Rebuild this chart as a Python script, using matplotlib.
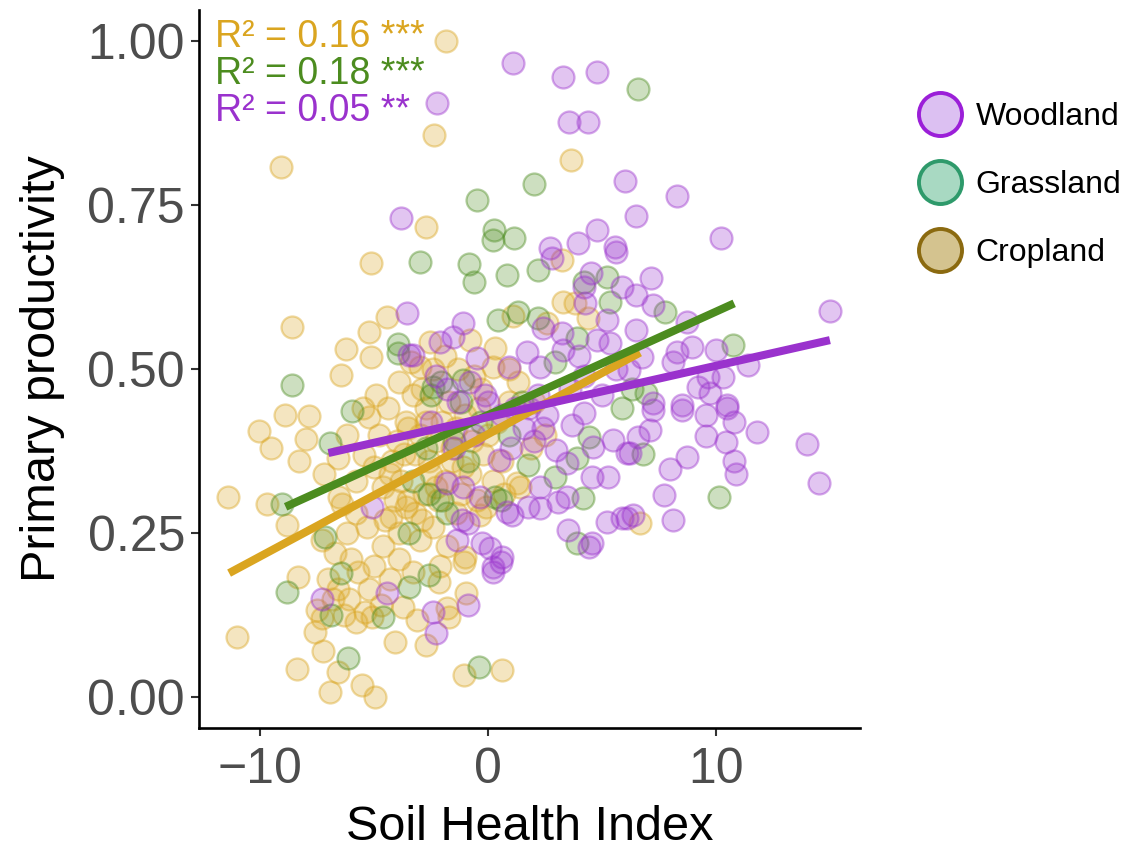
import matplotlib
matplotlib.use("Agg")
import matplotlib.pyplot as plt
from matplotlib.lines import Line2D
from matplotlib.colors import to_rgba

plt.rcParams['font.family'] = ['Liberation Sans', 'DejaVu Sans']

categories = ["Woodland", "Grassland", "Cropland"]

woodland_x = [1.1, 3.3, 4.8, 3.55, 4.4, -2.25, 6.0, 8.3, 6.5, 4.8, 10.2, 3.95, 5.55, 2.7, -3.8,
              2.8, 5.6, 7.15, 15.0, 4.5, 4.2, 5.9, 6.5, 7.25, 4.25, 5.2, 8.75, -3.55, -3.3, -1.1,
              2.4, 3.25, 6.5, 4.8, 5.35, 8.95, 10.0, 8.3, -3.45, -2.1, -1.55, -0.5, 1.7, 3.3, 0.9,
              2.3, 6.75, 8.1, 11.4, 6.2, 9.65, 10.3, 9.2, 9.75, -0.15, 8.5, 10.5, 7.25, 8.5, 9.55,
              10.5, 10.8, 11.8, 9.55, 10.45, 14.0, 10.8, 10.9, 8.75, 8.0, 14.5, 7.7, 8.1, 6.35, 6.1,
              7.25, 7.1, 6.25, 6.6, 5.5, 6.1, 4.6, 3.45, 3.0, 4.55, 5.25, 2.3, 3.45, 3.05, 2.3,
              1.75, 1.05, 0.85, 5.2, 5.9, 3.5, 4.55, 4.45, -1.15, -0.9, -1.35, -0.25, 0.1, 0.6, 0.2,
              -1.8, -1.1, -0.35, 0.5, -2.3, -2.4, -0.9, 0.2, 0.55, -4.45, -5.1, -2.3, -1.8, -1.3,
              -0.8, 0.0, 0.6, 1.2, 1.6, 2.2, 2.6, 3.6, 4.2, 5.0, 5.6, 4.0, 2.0, 1.0, -0.6, -1.5,
              -2.5, 4.2, 3.7, 2.4, 1.8, -7.3]
woodland_y = [0.966, 0.945, 0.953, 0.876, 0.876, 0.905, 0.787, 0.764, 0.733, 0.712, 0.70, 0.692, 0.686, 0.684, 0.73,
              0.669, 0.678, 0.638, 0.588, 0.646, 0.625, 0.625, 0.613, 0.598, 0.60, 0.575, 0.572, 0.585, 0.521, 0.57,
              0.562, 0.555, 0.56, 0.544, 0.54, 0.533, 0.529, 0.526, 0.521, 0.541, 0.549, 0.517, 0.526, 0.529, 0.503,
              0.503, 0.518, 0.51, 0.506, 0.498, 0.488, 0.488, 0.473, 0.463, 0.46, 0.445, 0.445, 0.448, 0.437, 0.43,
              0.44, 0.42, 0.404, 0.398, 0.389, 0.386, 0.36, 0.34, 0.366, 0.348, 0.326, 0.308, 0.27, 0.277, 0.273,
              0.437, 0.407, 0.372, 0.397, 0.392, 0.372, 0.381, 0.357, 0.377, 0.336, 0.336, 0.32, 0.305, 0.297, 0.288,
              0.29, 0.277, 0.282, 0.267, 0.273, 0.255, 0.235, 0.229, 0.27, 0.265, 0.239, 0.235, 0.227, 0.213, 0.198,
              0.326, 0.32, 0.305, 0.361, 0.098, 0.13, 0.14, 0.19, 0.206, 0.158, 0.29, 0.49, 0.47, 0.45,
              0.48, 0.45, 0.43, 0.44, 0.41, 0.46, 0.43, 0.47, 0.49, 0.46, 0.50, 0.52, 0.39, 0.38, 0.40, 0.38,
              0.42, 0.433, 0.415, 0.41, 0.44, 0.15]

grassland_x = [6.6, -0.5, 2.0, 0.25, 1.15, 0.2, -3.0, -0.85, -0.6, 0.85, 2.2, 5.2, 4.2, 5.35, 7.75,
               0.45, 1.3, 2.2, 3.9, 2.95, 10.75, -3.95, -3.95, -8.6, -2.4, -1.1, 6.95, 6.8, 10.15, 4.45,
               3.9, 2.95, 1.75, 4.15, 3.9, 0.3, 0.55, -5.95, -6.95, -9.05, -7.15, -3.45, -8.8, -6.15, -6.45,
               -6.9, -4.6, -3.45, -2.6, -0.4, -2.7, -2.0, -0.9, 0.9, -1.2, -0.3, 5.9, 6.3, -2.5, -2.05,
               -2.6, -1.8, 1.5, -3.3, -1.5]
grassland_y = [0.927, 0.758, 0.782, 0.712, 0.70, 0.697, 0.663, 0.66, 0.633, 0.643, 0.651, 0.64, 0.632, 0.602, 0.587,
               0.575, 0.587, 0.578, 0.547, 0.51, 0.536, 0.538, 0.524, 0.476, 0.473, 0.483, 0.463, 0.37, 0.305, 0.396,
               0.364, 0.336, 0.354, 0.303, 0.235, 0.305, 0.30, 0.436, 0.387, 0.295, 0.244, 0.25, 0.16, 0.059, 0.189,
               0.125, 0.122, 0.168, 0.186, 0.046, 0.38, 0.30, 0.36, 0.40, 0.45, 0.42, 0.44, 0.47, 0.46, 0.48,
               0.31, 0.28, 0.45, 0.33, 0.39]

cropland_x = [-1.85, -2.35, -9.1, 3.65, -2.7, 3.25, -5.15, -4.45, -8.6, -5.2, -6.25, -5.15, -6.45, 3.3, 4.4,
              -2.55, -0.8, 0.3, -3.0, 0.2, -10.05, -7.85, -8.0, -5.2, -6.6, -5.45, -11.4, -9.7, -8.8, -6.55,
              -6.4, -5.8, -4.25, -11.0, -8.35, -8.4, -7.25, -6.6, -6.95, -5.55, -4.95, -4.1, -2.7, -0.95, -1.8,
              -1.7, -3.1, -3.75, -5.1, -7.3, -7.5, -2.15, -1.05, -1.05, 0.6, -1.0, -0.35, 1.4, 1.25, 6.65,
              -7.0, -6.6, -6.1, -6.8, -5.7, -5.2, -7.6, -6.3, -5.8, -5.4, -4.7, -4.3, -5.0, -6.0, -6.7,
              -7.3, -4.6, -3.9, -3.3, -5.8, -5.0, -4.6, -4.2, -3.8, -3.5, -3.2, -2.8, -2.5, -2.2, -1.9,
              -1.6, -1.2, -0.8, -0.5, -0.2, 0.2, 0.6, -4.8, -4.4, -4.0, -3.6, -3.3, -3.0, -2.7, -2.3,
              -2.0, -1.7, -1.4, -1.0, -0.7, -0.4, 0.0, 0.4, 0.9, 1.3, -3.9, -3.4, -2.9, -2.4, -1.9,
              -1.3, -0.6, -4.5, -3.9, -3.0, -2.4, -1.8, -2.1, -5.3, -6.2, -4.1, -3.7, -2.6, -1.4, -0.1,
              0.7, 1.9, 2.5, 2.0, -4.9, -5.5, -6.2, -7.2, -8.3, -8.9, -9.5, 3.8, 1.1, 2.6, -3.6,
              -2.9, -4.3, -1.1, -0.3, 0.9, -3.2, -2.3, -1.6, -2.7, -3.5]
cropland_y = [1.0, 0.857, 0.808, 0.819, 0.716, 0.666, 0.662, 0.579, 0.564, 0.556, 0.530, 0.518, 0.491, 0.602, 0.578,
              0.541, 0.544, 0.532, 0.503, 0.503, 0.405, 0.428, 0.394, 0.427, 0.364, 0.369, 0.305, 0.295, 0.262, 0.305,
              0.295, 0.28, 0.275, 0.091, 0.183, 0.043, 0.07, 0.038, 0.008, 0.018, 0.0, 0.084, 0.079, 0.158, 0.136,
              0.122, 0.117, 0.137, 0.122, 0.12, 0.133, 0.175, 0.206, 0.034, 0.041, 0.213, 0.277, 0.32, 0.326, 0.265,
              0.18, 0.165, 0.15, 0.15, 0.19, 0.165, 0.10, 0.125, 0.115, 0.13, 0.14, 0.18, 0.20, 0.21, 0.22,
              0.24, 0.23, 0.21, 0.19, 0.33, 0.35, 0.32, 0.36, 0.33, 0.30, 0.28, 0.31, 0.34, 0.30, 0.33,
              0.36, 0.31, 0.34, 0.30, 0.37, 0.33, 0.36, 0.40, 0.44, 0.39, 0.42, 0.46, 0.40, 0.44, 0.39,
              0.42, 0.45, 0.41, 0.43, 0.39, 0.44, 0.40, 0.42, 0.45, 0.48, 0.48, 0.51, 0.47, 0.50, 0.52,
              0.50, 0.49, 0.27, 0.25, 0.24, 0.26, 0.23, 0.20, 0.26, 0.25, 0.30, 0.37, 0.36, 0.28, 0.29,
              0.31, 0.38, 0.40, 0.45, 0.46, 0.44, 0.40, 0.34, 0.36, 0.43, 0.38, 0.60, 0.58, 0.57, 0.29,
              0.27, 0.34, 0.35, 0.47, 0.50, 0.37, 0.32, 0.38, 0.42, 0.41]

# fitted regression lines (endpoints)
fit_x = {"Cropland": [-11.36, 6.67], "Grassland": [-8.88, 10.8], "Woodland": [-7.0, 15.0]}
fit_y = {"Cropland": [0.189, 0.525], "Grassland": [0.29, 0.60], "Woodland": [0.372, 0.544]}

r2_labels = ["R\u00b2 = 0.16 ***", "R\u00b2 = 0.18 ***", "R\u00b2 = 0.05 **"]
r2_groups = ["Cropland", "Grassland", "Woodland"]

colors = {"Woodland": "#9A32CD", "Grassland": "#4C8C1F", "Cropland": "#DAA520"}
legend_face = {"Woodland": "#DCC0F2", "Grassland": "#A8D9C2", "Cropland": "#D4C38F"}
legend_edge = {"Woodland": "#9B1FD8", "Grassland": "#2E9A6B", "Cropland": "#8B6A10"}

data = {"Woodland": (woodland_x, woodland_y),
        "Grassland": (grassland_x, grassland_y),
        "Cropland": (cropland_x, cropland_y)}

fig = plt.figure(figsize=(11.29, 8.51), dpi=100)
ax = fig.add_axes([199/1129, 123/851, 661/1129, 718/851])

for g in ["Cropland", "Grassland", "Woodland"]:
    xs, ys = data[g]
    ax.scatter(xs, ys, s=250, facecolor=to_rgba(colors[g], 0.28),
               edgecolor=to_rgba(colors[g], 0.42), linewidth=1.6, zorder=2)

for g in ["Cropland", "Grassland", "Woodland"]:
    ax.plot(fit_x[g], fit_y[g], color=colors[g], lw=5.8, solid_capstyle='butt', zorder=3)

ax.set_xlim(-12.68, 16.32)
ax.set_ylim(-0.047, 1.047)
ax.set_xticks([-10, 0, 10])
ax.set_yticks([0, 0.25, 0.5, 0.75, 1.0])
ax.set_yticklabels(["0.00", "0.25", "0.50", "0.75", "1.00"])
for s in ["top", "right"]:
    ax.spines[s].set_visible(False)
for s in ["left", "bottom"]:
    ax.spines[s].set_linewidth(1.9)
    ax.spines[s].set_color("black")
ax.tick_params(axis='both', length=6, width=1.5, color="#333333",
               labelsize=36, labelcolor="#4D4D4D")
ax.tick_params(axis='x', pad=8)
ax.tick_params(axis='y', pad=4)
ax.set_xlabel("Soil Health Index", fontsize=35, color="black", labelpad=8)
ax.set_ylabel("Primary productivity", fontsize=35, color="black", labelpad=16)

for i, (lab, g) in enumerate(zip(r2_labels, r2_groups)):
    ax.text(0.024, 0.963 - i * 0.0515, lab, transform=ax.transAxes, fontsize=27,
            color=colors[g], va='center', ha='left', zorder=4)

handles = [Line2D([], [], marker='o', linestyle='', markersize=31,
                  markerfacecolor=legend_face[c], markeredgecolor=legend_edge[c],
                  markeredgewidth=2.8) for c in categories]
fig.legend(handles, categories, loc='upper left', bbox_to_anchor=(902/1129, 1 - 89/851),
           frameon=False, fontsize=23, labelspacing=1.2, handletextpad=0.3,
           handlelength=1.6, borderaxespad=0)

fig.savefig("out.png", dpi=100)
